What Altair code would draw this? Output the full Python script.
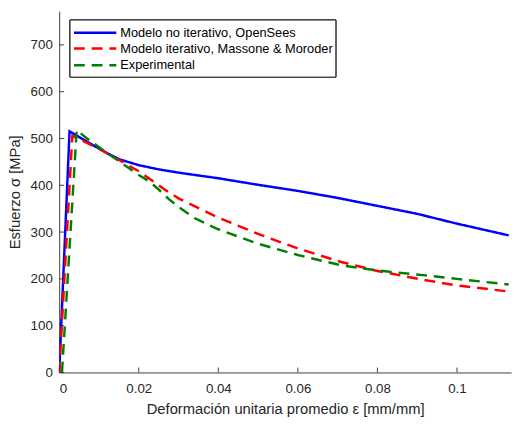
import altair as alt
import pandas as pd

series_names = ["Modelo no iterativo, OpenSees",
                "Modelo iterativo, Massone & Moroder",
                "Experimental"]

blue_x = [0, 0.0026, 0.005, 0.008, 0.0124, 0.0153, 0.02, 0.025, 0.03, 0.04, 0.05, 0.06, 0.07, 0.08, 0.09, 0.1, 0.113]
blue_y = [0, 515, 503, 488, 467, 455, 443, 434, 427, 415, 401, 388, 373, 356, 339, 318, 293]

red_x = [0, 0.0033, 0.006, 0.0124, 0.02, 0.0267, 0.03, 0.04, 0.05, 0.06, 0.0709, 0.08, 0.0915, 0.1, 0.113]
red_y = [0, 505, 495, 467, 430, 390, 372, 331, 296, 265, 236, 217, 198, 186, 173]

green_x = [0.0007, 0.0044, 0.007, 0.0124, 0.02, 0.0227, 0.025, 0.0275, 0.03, 0.034, 0.0379, 0.04, 0.05, 0.06, 0.0709, 0.08, 0.0915, 0.1, 0.113]
green_y = [0, 518, 500, 467, 422, 408, 391, 371, 354, 330, 314, 306, 275, 251, 229, 218, 208, 200, 188]

x_ticks = [0, 0.02, 0.04, 0.06, 0.08, 0.1]
y_ticks = [0, 100, 200, 300, 400, 500, 600, 700]

colors = ["#0000FF", "#FF0000", "#008000"]
dashes = [[1, 0], [11, 7], [11, 7]]

rows = []
for name, xs, ys in zip(series_names, [blue_x, red_x, green_x], [blue_y, red_y, green_y]):
    for i, (a, b) in enumerate(zip(xs, ys)):
        rows.append({"serie": name, "eps": a, "sigma": b, "i": i})
df = pd.DataFrame(rows)

W, H = 459, 367
xscale = alt.Scale(domain=[0, 0.1136], nice=False, zero=False)
yscale = alt.Scale(domain=[0, 772], nice=False)

layers = []
for name, c, d in zip(series_names, colors, dashes):
    layers.append(
        alt.Chart(df).transform_filter(alt.datum.serie == name).mark_line(
            strokeWidth=2.5, clip=True, color=c, strokeDash=d).encode(
            x=alt.X("eps:Q", scale=xscale,
                    axis=alt.Axis(title="Deformación unitaria promedio ε [mm/mm]", values=x_ticks,
                                  format="~g", grid=False, tickSize=0, labelPadding=9,
                                  domainColor="#404040", titlePadding=7)),
            y=alt.Y("sigma:Q", scale=yscale,
                    axis=alt.Axis(title="Esfuerzo σ [MPa]", values=y_ticks, grid=False,
                                  tickSize=0, labelPadding=7, domainColor="#404040",
                                  titlePadding=8)),
            order="i:Q",
        )
    )

xt = pd.DataFrame({"v": x_ticks})
yt = pd.DataFrame({"v": y_ticks})
xtick_layer = alt.Chart(xt).mark_rule(color="#404040", strokeWidth=1).encode(
    x=alt.X("v:Q", scale=xscale), y=alt.value(H), y2=alt.value(H - 5))
ytick_layer = alt.Chart(yt).mark_rule(color="#404040", strokeWidth=1).encode(
    y=alt.Y("v:Q", scale=yscale), x=alt.value(0), x2=alt.value(5))

# manual legend
leg_df = pd.DataFrame({"serie": series_names})
legend_layers = [
    alt.Chart(leg_df).mark_rect(fill="white", stroke="#222222", strokeWidth=1).encode(
        x=alt.value(11), x2=alt.value(281), y=alt.value(9), y2=alt.value(67))
]
row_y = [22, 38, 55]
for name, c, d, ry in zip(series_names, colors, dashes, row_y):
    sub = alt.Chart(leg_df).transform_filter(alt.datum.serie == name)
    legend_layers.append(
        sub.mark_rule(color=c, strokeWidth=2.5, strokeDash=d).encode(
            x=alt.value(15), x2=alt.value(58), y=alt.value(ry)))
    legend_layers.append(
        sub.mark_text(align="left", baseline="middle", font="Liberation Sans",
                      fontSize=13, color="#000000").encode(
            x=alt.value(62), y=alt.value(ry), text="serie:N"))

chart = alt.layer(xtick_layer, ytick_layer, *layers, *legend_layers).properties(
    width=W, height=H,
    autosize=alt.AutoSizeParams(type="none"),
    padding={"left": 52, "top": 0, "right": 5, "bottom": 43},
).configure_view(stroke=None).configure_axis(
    labelFont="Liberation Sans", labelFontSize=13.5, labelColor="#262626",
    titleFont="Liberation Sans", titleFontSize=15, titleFontWeight="normal", titleColor="#262626",
    domainWidth=1,
)

chart.save("out.html", embed_options={"renderer": "svg", "actions": False})
